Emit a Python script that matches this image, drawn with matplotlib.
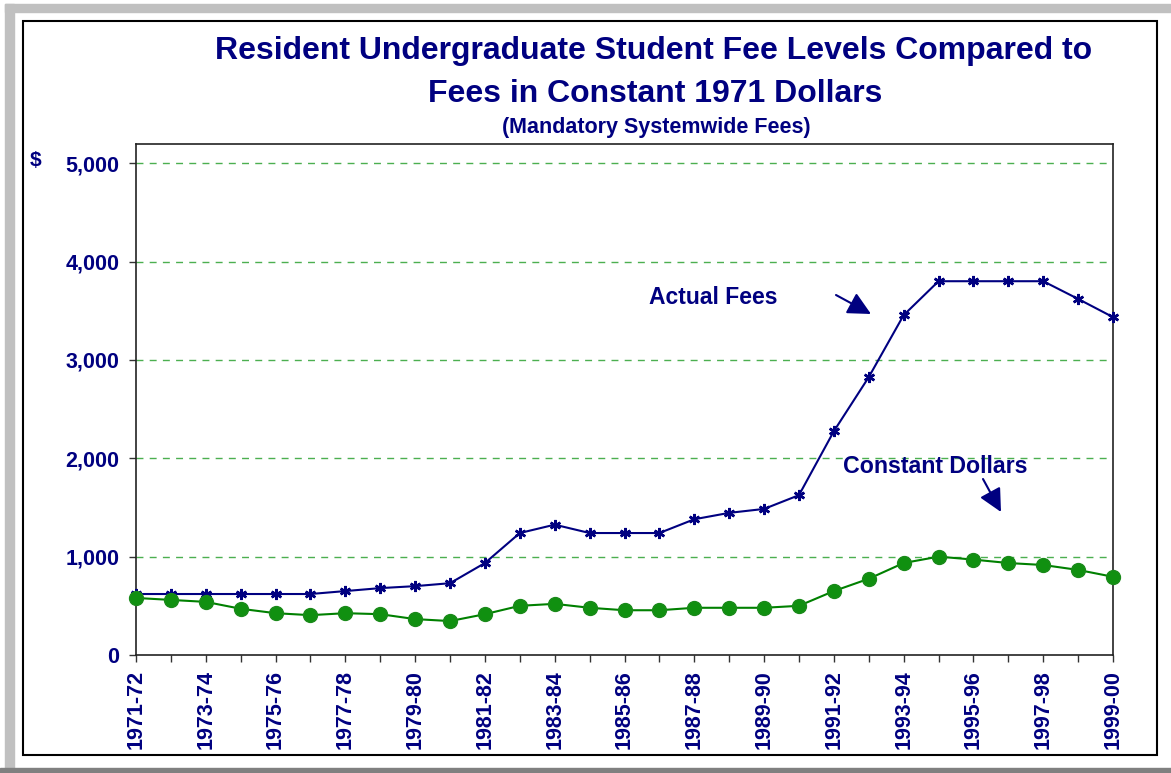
import matplotlib
matplotlib.use("Agg")
import matplotlib.pyplot as plt
from matplotlib.patches import Rectangle

plt.rcParams['font.family'] = ['Liberation Sans', 'DejaVu Sans']

years = ["1971-72", "1972-73", "1973-74", "1974-75", "1975-76", "1976-77", "1977-78",
         "1978-79", "1979-80", "1980-81", "1981-82", "1982-83", "1983-84", "1984-85",
         "1985-86", "1986-87", "1987-88", "1988-89", "1989-90", "1990-91", "1991-92",
         "1992-93", "1993-94", "1994-95", "1995-96", "1996-97", "1997-98", "1998-99",
         "1999-00"]
actual_fees = [620, 620, 620, 620, 620, 620, 650, 680, 700, 730, 935, 1240, 1325, 1240,
               1240, 1240, 1380, 1445, 1485, 1625, 2275, 2825, 3455, 3800, 3800, 3800,
               3800, 3620, 3435]
constant_dollars = [580, 560, 540, 470, 425, 405, 425, 415, 365, 345, 415, 500, 520, 480,
                    455, 455, 480, 480, 480, 500, 650, 775, 935, 1000, 970, 935, 915, 865,
                    795]
y_ticks = [0, 1000, 2000, 3000, 4000, 5000]
y_tick_labels = ["0", "1,000", "2,000", "3,000", "4,000", "5,000"]

W, H = 1171, 773
NAVY = "#000080"
fig = plt.figure(figsize=(W / 100, H / 100), dpi=100)


def fx(px):
    return px / W


def fy(py):
    return 1 - py / H


# decorative frames
fig.patches.append(Rectangle((fx(5), fy(768)), fx(9), 764 / H, transform=fig.transFigure,
                             color="#c0c0c0", zorder=0))
fig.patches.append(Rectangle((fx(5), fy(12)), 1 - fx(5), 8 / H, transform=fig.transFigure,
                             color="#c0c0c0", zorder=0))
fig.patches.append(Rectangle((0, 0), 1, 5 / H, transform=fig.transFigure,
                             color="#808080", zorder=0))
fig.patches.append(Rectangle((fx(23), fy(755)), fx(1157 - 23), (755 - 21) / H,
                             transform=fig.transFigure, fill=False, edgecolor="black",
                             linewidth=1.5, zorder=1))

ax = fig.add_axes([fx(136), fy(655), fx(1113 - 136), (655 - 144) / H])
x = list(range(len(years)))

ax.plot(x, actual_fees, color=NAVY, linewidth=1.5, marker=(6, 2, 0), markersize=8,
        markeredgewidth=1.8, markeredgecolor=NAVY, zorder=3, clip_on=False)
ax.plot(x, constant_dollars, color="#008000", linewidth=1.5, marker="o", markersize=10,
        markerfacecolor="#109010", markeredgecolor="#1a8a1a", zorder=3, clip_on=False)

ax.set_xlim(0, len(years) - 1)
ax.set_ylim(0, 5195)
ax.set_yticks(y_ticks)
ax.set_yticklabels(y_tick_labels)
ax.set_xticks(x)
ax.set_xticklabels([lab if i % 2 == 0 else "" for i, lab in enumerate(years)], rotation=90)

for yv in y_ticks[1:]:
    ax.axhline(yv, color="#4caf50", linestyle=(0, (5, 4.5)), linewidth=1.0, zorder=1)

ax.tick_params(axis="both", direction="out", length=5, width=1, color="#333333",
               labelcolor=NAVY, labelsize=15.5)
ax.tick_params(axis="x", pad=6)
ax.tick_params(axis="y", pad=7)
for lab in ax.get_xticklabels() + ax.get_yticklabels():
    lab.set_fontweight("bold")
for sp in ax.spines.values():
    sp.set_color("#222222")
    sp.set_linewidth(1.2)

# titles
fig.text(fx(654), fy(51), "Resident Undergraduate Student Fee Levels Compared to",
         ha="center", va="center", fontsize=23, fontweight="bold", color=NAVY)
fig.text(fx(655), fy(94), "Fees in Constant 1971 Dollars",
         ha="center", va="center", fontsize=23, fontweight="bold", color=NAVY)
fig.text(fx(656), fy(128), "(Mandatory Systemwide Fees)",
         ha="center", va="center", fontsize=15.5, fontweight="bold", color=NAVY)
fig.text(fx(36), fy(160), "$", ha="center", va="center", fontsize=15,
         fontweight="bold", color=NAVY)

# annotations
fig.text(fx(649), fy(298), "Actual Fees", ha="left", va="center", fontsize=16.5,
         fontweight="bold", color=NAVY)
fig.text(fx(843), fy(466), "Constant Dollars", ha="left", va="center", fontsize=16.7,
         fontweight="bold", color=NAVY)
arrowprops = dict(arrowstyle="-|>,head_length=1.4,head_width=0.7", color=NAVY,
                  linewidth=1.5, shrinkA=0, shrinkB=0)
ax.annotate("", xy=(fx(871), fy(314)), xytext=(fx(836), fy(295)),
            xycoords="figure fraction", textcoords="figure fraction",
            arrowprops=arrowprops)
ax.annotate("", xy=(fx(1001), fy(512)), xytext=(fx(983), fy(479)),
            xycoords="figure fraction", textcoords="figure fraction",
            arrowprops=arrowprops)

fig.savefig("out.png", dpi=100)
